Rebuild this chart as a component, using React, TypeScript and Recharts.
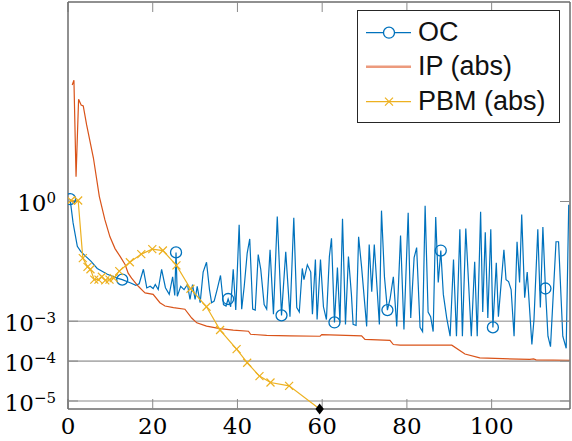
import {
  LineChart,
  Line,
  XAxis,
  YAxis,
  ReferenceLine,
  ReferenceDot,
  Legend,
} from "recharts";

// OC: iterate values (x position, value)
const ocX = [
  0.5, 1.2, 2.2, 3.0, 4.2, 5.4, 6.9, 9.3, 11.6, 12.8, 14.8, 16.0, 16.8, 17.8,
  18.6, 19.4, 20.1, 20.6, 21.3, 22.1, 23.0, 23.9, 24.7, 25.2, 25.5, 25.8, 26.6,
  27.4, 28.2, 28.8, 29.4, 30.0, 30.5, 31.2, 31.9, 32.7, 33.4, 33.9, 34.5, 35.2,
  36.0, 36.7, 37.3, 37.8, 38.4, 39.0, 39.6, 40.4, 41.0, 41.6, 42.3, 42.9, 43.6,
  44.2, 44.9, 45.5, 46.3, 46.9, 47.7, 48.5, 49.4, 50.4, 51.4, 52.4, 53.3, 54.0,
  54.6, 55.3, 55.7, 56.5, 57.3, 57.7, 58.4, 58.8, 59.6, 60.3, 61.0, 61.7, 62.2,
  62.9, 63.6, 64.2, 64.8, 65.5, 66.2, 66.9, 67.3, 68.0, 68.6, 69.3, 70.5, 71.1,
  71.7, 72.3, 73.5, 74.0, 74.7, 75.4, 76.0, 76.8, 77.6, 78.5, 79.3, 80.3, 80.9,
  81.7, 82.3, 83.1, 83.7, 84.3, 85.0, 85.6, 86.2, 86.8, 87.4, 88.0, 88.6, 89.4,
  90.2, 91.0, 91.7, 92.5, 93.1, 93.9, 95.2, 96.0, 96.6, 97.4, 97.9, 98.5, 99.1,
  99.8, 100.3, 101.1, 101.6, 102.9, 103.4, 104.0, 104.6, 105.3, 106.0, 106.6,
  107.1, 107.8, 108.4, 109.5, 110.0, 110.9, 111.5, 112.1, 112.7, 113.3, 113.9,
  115.2, 115.8, 116.8, 117.6, 118.2,
];
const ocY = [
  1.15, 0.29, 0.075, 0.056, 0.042, 0.032, 0.021, 0.015, 0.012, 0.011, 0.0091,
  0.0079, 0.0087, 0.02, 0.0068, 0.0075, 0.0066, 0.0083, 0.0062, 0.02, 0.0069,
  0.0047, 0.013, 0.0044, 0.053, 0.0042, 0.0075, 0.0062, 0.0083, 0.0035, 0.0083,
  0.0035, 0.0075, 0.0029, 0.017, 0.03, 0.0062, 0.0029, 0.0032, 0.0062, 0.014,
  0.0026, 0.0024, 0.0036, 0.0023, 0.02, 0.0019, 0.26, 0.002, 0.0075, 0.051,
  0.115, 0.002, 0.0019, 0.047, 0.02, 0.0026, 0.002, 0.062, 0.0015, 0.42, 0.0014,
  0.055, 0.0013, 0.39, 0.0022, 0.0017, 0.021, 0.011, 0.026, 0.017, 0.0015,
  0.035, 0.0011, 0.035, 0.0023, 0.0011, 0.042, 0.12, 0.00093, 0.022, 0.00093,
  0.37, 0.00083, 0.042, 0.0047, 0.00083, 0.00078, 0.13, 0.023, 0.00074, 0.083,
  0.0055, 0.083, 0.00083, 0.59, 0.013, 0.0019, 0.0035, 0.013, 0.00074, 0.14,
  0.00062, 0.52, 0.0012, 0.039, 0.07, 0.0007, 0.00055, 0.78, 0.0017, 0.0013,
  0.00055, 0.41, 0.0093, 0.059, 0.0047, 0.0012, 0.00042, 0.035, 0.00042, 0.2,
  0.00042, 0.21, 0.00042, 0.031, 0.00042, 0.55, 0.0017, 0.17, 0.0012, 0.2,
  0.0007, 0.029, 0.0013, 0.062, 0.011, 0.0098, 0.0062, 0.00042, 0.098, 0.0093,
  0.47, 0.0039, 0.017, 0.00026, 0.0011, 0.2, 0.0022, 0.23, 0.0066, 0.00042,
  0.00023, 0.098, 0.098, 0.00042, 0.00021, 0.83,
];
const ocMarkers = [0.5, 12.8, 25.5, 37.8, 50.4, 62.9, 75.4, 88.0, 100.3, 112.7];

// IP (abs)
const ipX = [
  1.0, 1.4, 1.9, 2.5, 3.1, 3.6, 4.4, 6.0, 7.4, 8.7, 9.9, 11.1, 12.3, 13.5, 14.2,
  15.0, 16.6, 17.8, 18.2, 20.1, 21.7, 22.9, 24.9, 27.6, 29.2, 30.4, 32.7, 35.9,
  39.0, 42.6, 43.1, 46.9, 52.4, 59.5, 59.9, 69.3, 70.1, 76.0, 76.8, 78.4, 90.6,
  93.7, 97.2, 109.0, 109.9, 110.5, 118.5,
];
const ipY = [
  830, 1100, 4.2, 363, 263, 250, 83, 12.3, 1.33, 0.35, 0.13, 0.066, 0.042, 0.026,
  0.016, 0.012, 0.0075, 0.0056, 0.0051, 0.0047, 0.0029, 0.0024, 0.0022, 0.002,
  0.0012, 0.00091, 0.00075, 0.00065, 0.0006, 0.00056, 0.00047, 0.00044, 0.00043,
  0.00042, 0.00046, 0.00043, 0.00035, 0.00033, 0.00026, 0.00025, 0.00025,
  0.00015, 0.00012, 0.00011, 0.000113, 0.000107, 0.000105,
];

// PBM (abs)
const pbmX = [
  0.7, 2.4, 3.5, 4.6, 5.3, 6.2, 7.2, 8.0, 8.8, 9.8, 10.8, 12.1, 14.6, 17.3, 19.9,
  22.4, 25.6, 28.9, 32.7, 35.9, 39.8, 42.3, 45.2, 47.8, 52.2, 59.4,
];
const pbmY = [
  1.06, 1.06, 0.038, 0.023, 0.02, 0.011, 0.011, 0.013, 0.0105, 0.011, 0.012,
  0.018, 0.03, 0.048, 0.064, 0.059, 0.025, 0.0065, 0.0023, 0.0006, 0.0002,
  0.000091, 0.000042, 0.000029, 0.000024, 0.0000063,
];

const xTicks = [0, 20, 40, 60, 80, 100];
const yTicks = [1e-5, 1e-4, 1e-3, 1];
const gridValues = [1e-3, 1e-4, 1e-5];
const xDomain = [0, 118.5];
const yDomain = [0.0000063, 1e5];

const BLUE = "#0072BD";
const RED = "#D95319";
const YELLOW = "#EDB120";
const AXIS = "#6b6b6b";
const TICK = "#8a8a8a";
const SERIF = "'DejaVu Serif', serif";
const SANS = "'Liberation Sans', Arial, sans-serif";

const zip = (xs: number[], ys: number[]) => xs.map((x, i) => ({ x, y: ys[i] }));
const ocData = zip(ocX, ocY);
const ipData = zip(ipX, ipY);
const pbmData = zip(pbmX, pbmY);

function XTick({ x, y, payload }: any) {
  return (
    <text x={x} y={y + 25} textAnchor="middle" fontFamily={SERIF} fontSize={23} fill="#000">
      {payload.value}
    </text>
  );
}

function YTick({ x, y, payload }: any) {
  const exp = Math.round(Math.log10(payload.value));
  const sup = exp < 0 ? `\u2212${-exp}` : `${exp}`;
  return (
    <text x={x - 12} y={y + 10} textAnchor="end" fontFamily={SERIF} fontSize={23} fill="#000">
      10
      <tspan dy={-8} fontSize={15}>
        {sup}
      </tspan>
    </text>
  );
}

const NoTick = () => <g />;

function OcDot({ cx, cy, payload }: any) {
  if (!ocMarkers.includes(payload.x)) return <g />;
  return <circle cx={cx} cy={cy} r={5.5} fill="none" stroke={BLUE} strokeWidth={1.3} />;
}

function Cross({ cx, cy, color }: { cx: number; cy: number; color: string }) {
  const s = 4;
  return (
    <path
      d={`M${cx - s},${cy - s}L${cx + s},${cy + s}M${cx - s},${cy + s}L${cx + s},${cy - s}`}
      stroke={color}
      strokeWidth={1.2}
      fill="none"
    />
  );
}

function PbmDot({ cx, cy, index }: any) {
  if (index === pbmX.length - 1) return <g />;
  return <Cross cx={cx} cy={cy} color={YELLOW} />;
}

function Diamond({ cx, cy }: any) {
  return (
    <polygon
      points={`${cx},${cy - 5.5} ${cx + 4.2},${cy} ${cx},${cy + 5.5} ${cx - 4.2},${cy}`}
      fill="#000"
    />
  );
}

function LegendBox() {
  const rows = [
    { label: "OC", y: 21.7, base: 30 },
    { label: "IP (abs)", y: 55.7, base: 64.3 },
    { label: "PBM (abs)", y: 90.7, base: 99.3 },
  ];
  return (
    <div
      style={{
        width: 203,
        height: 113,
        boxSizing: "border-box",
        border: "1.3px solid #262626",
        background: "#fff",
      }}
    >
      <svg width={201} height={111} style={{ display: "block" }}>
        <line x1={8} x2={53} y1={rows[0].y} y2={rows[0].y} stroke={BLUE} strokeWidth={1.2} />
        <circle cx={31} cy={rows[0].y} r={5.5} fill="#fff" stroke={BLUE} strokeWidth={1.3} />
        <line x1={8} x2={53} y1={rows[1].y} y2={rows[1].y} stroke="#EC9A7D" strokeWidth={2.5} />
        <line x1={8} x2={53} y1={rows[2].y} y2={rows[2].y} stroke={YELLOW} strokeWidth={1.2} />
        <Cross cx={31} cy={rows[2].y} color={YELLOW} />
        {rows.map((r) => (
          <text key={r.label} x={60} y={r.base} fontFamily={SANS} fontSize={27} fill="#111">
            {r.label}
          </text>
        ))}
      </svg>
    </div>
  );
}

export default function App() {
  return (
    <div style={{ position: "absolute", left: 0, top: 0, background: "#fff" }}>
      <LineChart width={572} height={441} margin={{ top: 2, right: 2, left: 0, bottom: 0 }}>
        <XAxis
          xAxisId={0}
          dataKey="x"
          type="number"
          domain={xDomain}
          ticks={xTicks}
          interval={0}
          allowDataOverflow
          height={32}
          axisLine={{ stroke: AXIS, strokeWidth: 1.5 }}
          tickLine={false}
          tickSize={0}
          tickMargin={0}
          tick={(p: any) => <XTick {...p} />}
        />
        <XAxis
          xAxisId="bt"
          dataKey="x"
          type="number"
          domain={xDomain}
          ticks={xTicks}
          interval={0}
          allowDataOverflow
          orientation="bottom"
          mirror
          axisLine={false}
          tickLine={{ stroke: TICK }}
          tickSize={10}
          tick={NoTick}
        />
        <XAxis
          xAxisId="tp"
          dataKey="x"
          type="number"
          domain={xDomain}
          ticks={xTicks}
          interval={0}
          allowDataOverflow
          orientation="top"
          mirror
          axisLine={{ stroke: AXIS, strokeWidth: 1.5 }}
          tickLine={{ stroke: TICK }}
          tickSize={10}
          tick={NoTick}
        />
        <YAxis
          yAxisId={0}
          type="number"
          scale="log"
          domain={yDomain}
          ticks={yTicks}
          interval={0}
          allowDataOverflow
          width={68}
          axisLine={{ stroke: AXIS, strokeWidth: 1.5 }}
          tickLine={false}
          tickSize={0}
          tickMargin={0}
          tick={(p: any) => <YTick {...p} />}
        />
        <YAxis
          yAxisId="lt"
          type="number"
          scale="log"
          domain={yDomain}
          ticks={yTicks}
          interval={0}
          allowDataOverflow
          orientation="left"
          mirror
          axisLine={false}
          tickLine={{ stroke: TICK }}
          tickSize={10}
          tick={NoTick}
        />
        <YAxis
          yAxisId="rt"
          type="number"
          scale="log"
          domain={yDomain}
          ticks={yTicks}
          interval={0}
          allowDataOverflow
          orientation="right"
          mirror
          axisLine={{ stroke: AXIS, strokeWidth: 1.5 }}
          tickLine={{ stroke: TICK }}
          tickSize={10}
          tick={NoTick}
        />
        {gridValues.map((v) => (
          <ReferenceLine key={v} y={v} stroke="#b0b0b0" strokeWidth={1.6} />
        ))}
        <Line
          data={ocData}
          dataKey="y"
          type="linear"
          stroke={BLUE}
          strokeWidth={1.2}
          dot={OcDot}
          activeDot={false}
          isAnimationActive={false}
        />
        <Line
          data={ipData}
          dataKey="y"
          type="linear"
          stroke={RED}
          strokeWidth={1.2}
          dot={false}
          activeDot={false}
          isAnimationActive={false}
        />
        <Line
          data={pbmData}
          dataKey="y"
          type="linear"
          stroke={YELLOW}
          strokeWidth={1.2}
          dot={PbmDot}
          activeDot={false}
          isAnimationActive={false}
        />
        <ReferenceDot
          x={pbmX[pbmX.length - 1]}
          y={pbmY[pbmY.length - 1]}
          ifOverflow="visible"
          shape={(p: any) => <Diamond {...p} />}
        />
        <Legend
          layout="vertical"
          align="center"
          verticalAlign="middle"
          wrapperStyle={{ left: 357, top: 10, width: 203, height: 113 }}
          content={() => <LegendBox />}
        />
      </LineChart>
    </div>
  );
}
